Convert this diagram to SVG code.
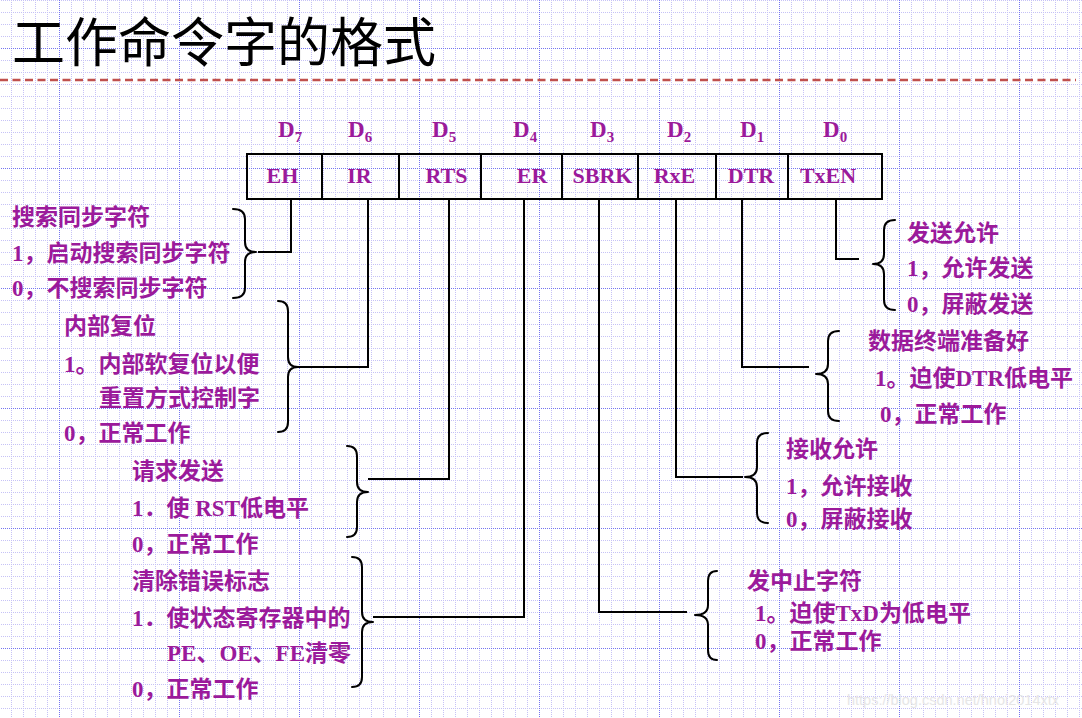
<svg xmlns="http://www.w3.org/2000/svg" width="1082" height="718" viewBox="0 0 1082 718">
<defs>
<pattern id="minor" patternUnits="userSpaceOnUse" x="11" y="0" width="12" height="12">
<path d="M0.5,0 V12 M0,0.5 H12" stroke="#c6c2f6" stroke-width="1" stroke-dasharray="1 1" fill="none"/>
</pattern>
<pattern id="major" patternUnits="userSpaceOnUse" x="59" y="48" width="120" height="120">
<path d="M0.5,0 V120 M0,0.5 H120" stroke="#7474f0" stroke-width="1" stroke-dasharray="1 1" fill="none"/>
</pattern>
<style>
.t{font-family:"Liberation Serif","Noto Sans CJK SC",serif;font-weight:bold;font-size:23px;fill:#9b1a9b}
.d{font-family:"Liberation Serif",serif;font-weight:bold;font-size:23px;fill:#9b1a9b}
.c{font-family:"Liberation Serif",serif;font-weight:bold;font-size:22px;fill:#9b1a9b;text-anchor:middle}
.ln{fill:none;stroke:#000;stroke-width:2}
.br{fill:none;stroke:#000;stroke-width:2;stroke-linecap:round;stroke-linejoin:round}
</style>
</defs>
<rect width="1082" height="718" fill="#fff"/>
<rect width="1082" height="718" fill="url(#minor)"/>
<rect width="1082" height="718" fill="url(#major)"/>
<text x="12" y="62" font-family="'Noto Sans CJK SC',sans-serif" font-size="53" fill="#000">工作命令字的格式</text>
<line x1="0" y1="80" x2="1076" y2="80" stroke="#c0504d" stroke-width="2.5" stroke-dasharray="8 4.5"/>

<g id="register">
<rect x="247" y="154" width="635" height="45" class="ln"/>
<path class="ln" d="M322,154V199M399,154V199M481,154V199M562,154V199M638,154V199M716,154V199M788,154V199"/>
</g>
<g id="bit7"><text class="d" x="278" y="137">D<tspan font-size="15" dy="5">7</tspan></text><text class="c" x="282.5" y="183">EH</text></g>
<g id="bit6"><text class="d" x="348" y="137">D<tspan font-size="15" dy="5">6</tspan></text><text class="c" x="359.5" y="183">IR</text></g>
<g id="bit5"><text class="d" x="432" y="137">D<tspan font-size="15" dy="5">5</tspan></text><text class="c" x="446.5" y="183">RTS</text></g>
<g id="bit4"><text class="d" x="513" y="137">D<tspan font-size="15" dy="5">4</tspan></text><text class="c" x="532" y="183">ER</text></g>
<g id="bit3"><text class="d" x="590" y="137">D<tspan font-size="15" dy="5">3</tspan></text><text class="c" x="602.5" y="183">SBRK</text></g>
<g id="bit2"><text class="d" x="667" y="137">D<tspan font-size="15" dy="5">2</tspan></text><text class="c" x="674.5" y="183">RxE</text></g>
<g id="bit1"><text class="d" x="740" y="137">D<tspan font-size="15" dy="5">1</tspan></text><text class="c" x="751" y="183">DTR</text></g>
<g id="bit0"><text class="d" x="823" y="137">D<tspan font-size="15" dy="5">0</tspan></text><text class="c" x="828" y="183">TxEN</text></g>

<g id="connectors">
<path class="ln" d="M291,199V252H258"/>
<path class="ln" d="M368,199V367H298"/>
<path class="ln" d="M449,199V479H368"/>
<path class="ln" d="M524,199V617H373"/>
<path class="ln" d="M599,199V612H687"/>
<path class="ln" d="M676,199V477H743"/>
<path class="ln" d="M742,199V367H809"/>
<path class="ln" d="M836,199V259H859"/>
</g>

<g id="desc-EH">
<path class="br" d="M233,209Q245,209 245,219L245,242Q245,252 256,252Q245,252 245,262L245,288Q245,298 233,298"/>
<text class="t" x="12" y="225">搜索同步字符</text>
<text class="t" x="12" y="261">1，启动搜索同步字符</text>
<text class="t" x="12" y="296">0，不搜索同步字符</text>
</g>
<g id="desc-IR">
<path class="br" d="M278,301Q288,301 288,311L288,357Q288,367 298,367Q288,367 288,377L288,422Q288,432 278,432"/>
<text class="t" x="64" y="334">内部复位</text>
<text class="t" x="64" y="372">1。内部软复位以便</text>
<text class="t" x="99" y="406">重置方式控制字</text>
<text class="t" x="64" y="441">0，正常工作</text>
</g>
<g id="desc-RTS">
<path class="br" d="M347,446Q357,446 357,456L357,482Q357,492 368,492Q357,492 357,502L357,527Q357,537 347,537"/>
<text class="t" x="132" y="479">请求发送</text>
<text class="t" x="132" y="516">1．使 RST低电平</text>
<text class="t" x="132" y="552">0，正常工作</text>
</g>
<g id="desc-ER">
<path class="br" d="M352,557Q362,557 362,567L362,612Q362,622 373,622Q362,622 362,632L362,677Q362,687 352,687"/>
<text class="t" x="132" y="589">清除错误标志</text>
<text class="t" x="132" y="626">1．使状态寄存器中的</text>
<text class="t" x="167" y="661">PE、OE、FE清零</text>
<text class="t" x="132" y="697">0，正常工作</text>
</g>
<g id="desc-SBRK">
<path class="br" d="M717,571Q708,571 708,581L708,605Q708,615 695,615Q708,615 708,625L708,650Q708,660 717,660"/>
<text class="t" x="747" y="589">发中止字符</text>
<text class="t" x="755" y="621">1。迫使TxD为低电平</text>
<text class="t" x="755" y="649">0，正常工作</text>
</g>
<g id="desc-RxE">
<path class="br" d="M768,433Q757,433 757,443L757,467Q757,477 745,477Q757,477 757,487L757,513Q757,523 768,523"/>
<text class="t" x="786" y="457">接收允许</text>
<text class="t" x="786" y="494">1，允许接收</text>
<text class="t" x="786" y="527">0，屏蔽接收</text>
</g>
<g id="desc-DTR">
<path class="br" d="M839,331Q828,331 828,341L828,364Q828,374 816,374Q828,374 828,384L828,411Q828,421 839,421"/>
<text class="t" x="868" y="349">数据终端准备好</text>
<text class="t" x="875" y="386">1。迫使DTR低电平</text>
<text class="t" x="880" y="422">0，正常工作</text>
</g>
<g id="desc-TxEN">
<path class="br" d="M895,220Q884,220 884,230L884,254Q884,264 873,264Q884,264 884,274L884,300Q884,310 895,310"/>
<text class="t" x="907" y="241">发送允许</text>
<text class="t" x="907" y="276">1，允许发送</text>
<text class="t" x="907" y="312">0，屏蔽发送</text>
</g>
<text x="847" y="705" font-family="'Liberation Sans',sans-serif" font-size="14.5" fill="#e6e6e6">https://blog.csdn.net/hnoi2014xtx</text>
</svg>
